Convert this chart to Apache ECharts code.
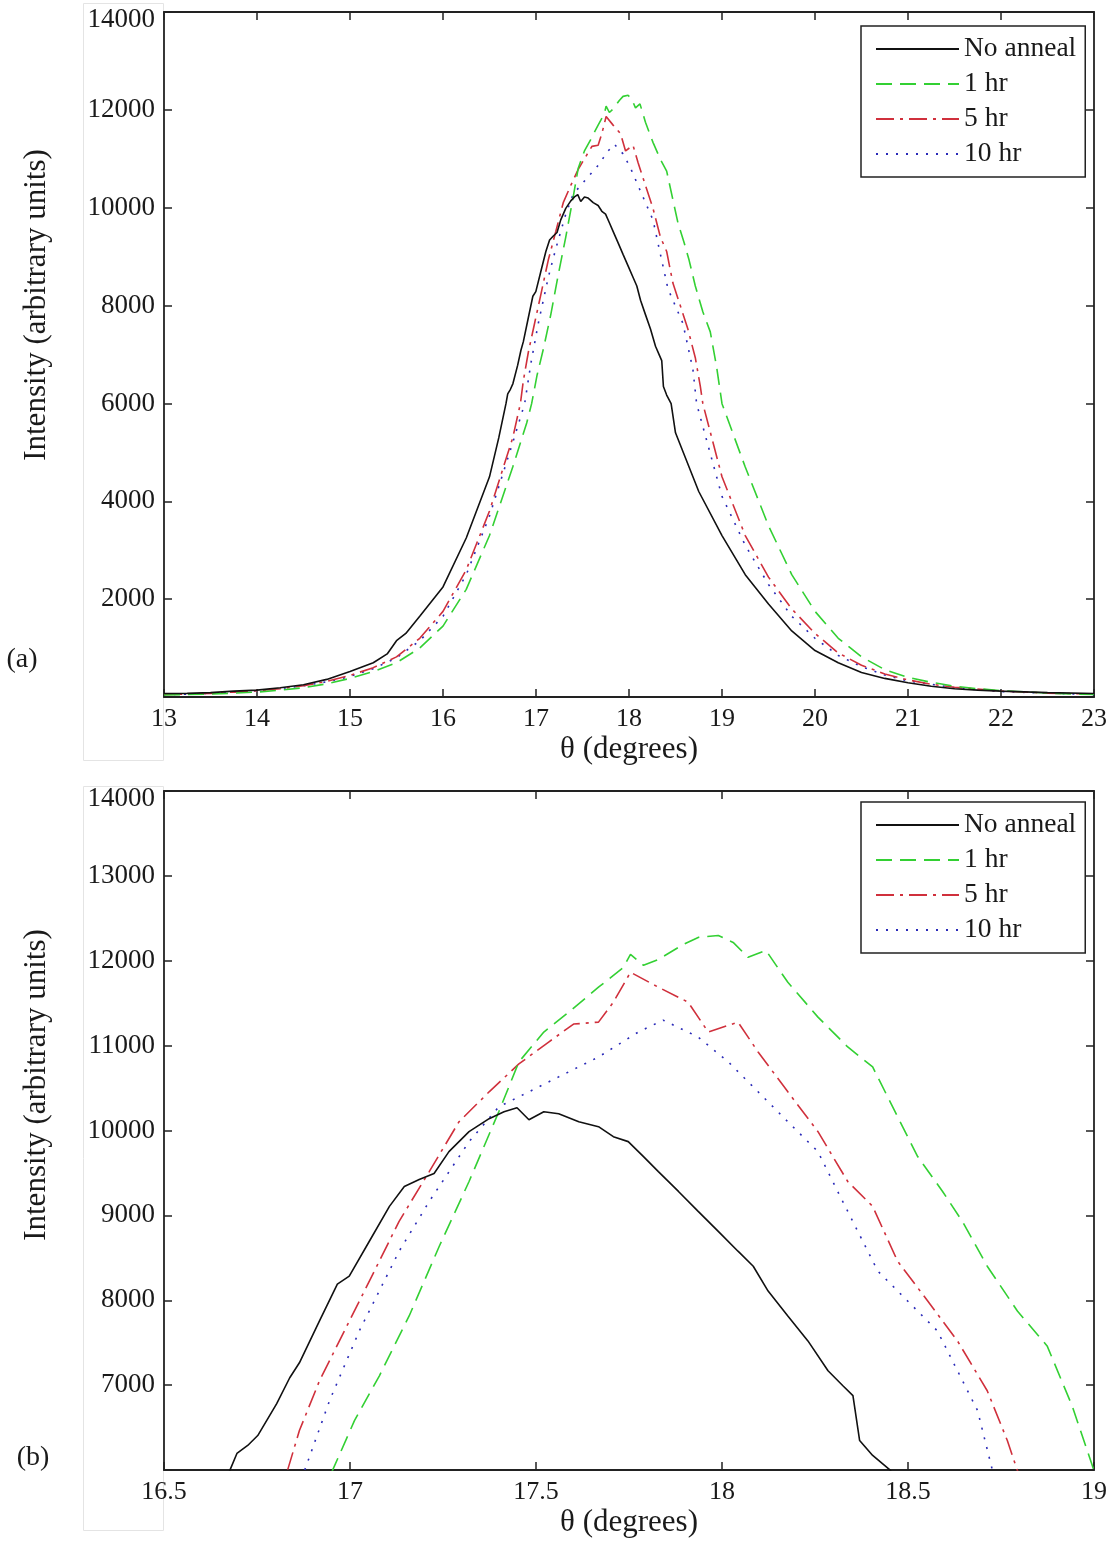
<!DOCTYPE html>
<html>
<head>
<meta charset="utf-8">
<script src="https://cdn.jsdelivr.net/npm/echarts@6/dist/echarts.min.js"></script>
<style>
html,body{margin:0;padding:0;background:#fff;}
#chart{width:1110px;height:1543px;}
</style>
</head>
<body>
<div id="chart"></div>
<script>
// ---- Series names ----
const seriesNames = ['No anneal', '1 hr', '5 hr', '10 hr'];

// ---- No anneal (black) ----
const blackX = [13.0,13.25,13.5,13.75,14.0,14.25,14.5,14.75,15.0,15.25,15.4,15.5,15.6,15.75,16.0,16.25,16.5,16.6,
  16.677,16.696,16.725,16.752,16.803,16.838,16.864,16.918,16.966,16.998,17.052,17.106,17.146,17.186,17.226,17.266,17.320,17.374,17.414,17.449,
  17.481,17.521,17.561,17.615,17.668,17.708,17.748,17.789,17.829,17.883,17.936,17.990,18.043,18.084,18.124,18.177,18.231,18.285,18.325,18.352,18.370,18.405,18.453,
  18.5,18.75,19.0,19.25,19.5,19.75,20.0,20.25,20.5,20.75,21.0,21.25,21.5,21.75,22.0,22.5,23.0];
const blackY = [70,75,90,120,140,190,250,360,520,700,880,1150,1300,1650,2250,3250,4500,5300,
  5995,6195,6289,6406,6782,7087,7263,7756,8190,8284,8695,9106,9340,9422,9493,9751,9986,10139,10221,10268,
  10127,10221,10197,10103,10045,9927,9869,9692,9516,9282,9047,8812,8578,8401,8108,7815,7521,7169,6993,6876,6347,6171,5995,
  5400,4200,3300,2500,1900,1350,950,700,500,380,290,220,170,140,120,90,70];

// ---- 1 hr (green) ----
const greenX = [13.0,13.25,13.5,13.75,14.0,14.25,14.5,14.75,15.0,15.25,15.5,15.75,16.0,16.25,16.5,16.75,16.9,
  16.953,17.012,17.079,17.159,17.240,17.320,17.400,17.454,17.521,17.588,17.668,17.735,17.754,17.789,17.829,17.896,17.936,17.990,18.030,18.070,18.118,
  18.177,18.258,18.338,18.405,18.472,18.526,18.593,18.646,18.713,18.794,18.874,18.941,19.0,
  19.25,19.5,19.75,20.0,20.25,20.5,20.75,21.0,21.25,21.5,21.75,22.0,22.5,23.0];
const greenY = [40,50,60,80,100,140,190,270,380,520,700,1000,1450,2200,3300,4700,5600,
  5995,6582,7110,7815,8636,9399,10221,10808,11160,11394,11688,11922,12075,11946,12016,12192,12275,12298,12216,12040,12122,
  11746,11336,10984,10749,10162,9693,9282,8930,8401,7873,7462,6758,5995,
  4700,3500,2500,1750,1200,820,560,400,300,220,170,130,80,50];

// ---- 5 hr (red) ----
const redX = [13.0,13.25,13.5,13.75,14.0,14.25,14.5,14.75,15.0,15.25,15.5,15.75,16.0,16.25,16.5,16.75,
  16.832,16.864,16.918,16.985,17.052,17.132,17.213,17.293,17.374,17.454,17.534,17.601,17.668,17.708,17.754,17.829,17.909,17.963,18.043,18.097,
  18.177,18.258,18.338,18.405,18.472,18.553,18.633,18.713,18.767,18.794,
  19.0,19.25,19.5,19.75,20.0,20.25,20.5,20.75,21.0,21.25,21.5,22.0,22.5,23.0];
const redY = [50,60,75,100,130,170,230,320,440,600,820,1200,1750,2600,3800,5300,
  5995,6465,7051,7639,8225,8930,9516,10103,10456,10784,11042,11254,11277,11512,11864,11688,11512,11160,11277,10925,
  10456,9986,9399,9106,8460,7991,7521,6934,6347,5995,
  4500,3300,2450,1800,1300,900,650,470,350,260,200,120,80,60];

// ---- 10 hr (blue) ----
const blueX = [13.0,13.25,13.5,13.75,14.0,14.25,14.5,14.75,15.0,15.25,15.5,15.75,16.0,16.25,16.5,16.75,
  16.878,16.945,17.025,17.132,17.213,17.320,17.400,17.481,17.561,17.668,17.775,17.842,17.936,18.017,18.097,
  18.177,18.258,18.311,18.365,18.419,18.499,18.579,18.633,18.687,18.727,
  19.0,19.25,19.5,19.75,20.0,20.25,20.5,20.75,21.0,21.5,22.0,22.5,23.0];
const blueY = [50,60,75,100,130,170,230,310,420,580,800,1150,1650,2500,3700,5200,
  5995,6817,7639,8577,9164,9868,10279,10456,10632,10866,11160,11300,11101,10808,10456,
  10103,9751,9282,8812,8343,7991,7639,7169,6700,5995,
  4100,3100,2300,1650,1200,850,620,450,330,190,110,80,50];

// ---- Axis settings (tick values) ----
const xTicksA = {min: 13, max: 23, interval: 1};
const yTicksA = {min: 0, max: 14000, interval: 2000};
const xTicksB = {min: 16.5, max: 19, interval: 0.5};
const yTicksB = {min: 6000, max: 14000, interval: 1000};

const seriesX = [blackX, greenX, redX, blueX];
const seriesY = [blackY, greenY, redY, blueY];

const FONT = 'Liberation Serif';
const TXT = '#1a1a1a';
const colors = ['#111111', '#33d033', '#d0303c', '#2a2ab8'];
const dashes = ['solid', [16, 8], [18, 6, 3, 6], [2, 8]];

function pairs(xs, ys) { return xs.map((x, i) => [x, ys[i]]); }

const axisLineStyle = {lineStyle: {color: '#222', width: 1.8}};
function xAxisDef(grid, t, pos, labels) {
  return Object.assign({
    type: 'value', gridIndex: grid, position: pos,
    axisLine: Object.assign({onZero: false}, axisLineStyle),
    axisTick: {show: true, inside: true, length: 8, lineStyle: {color: '#222', width: 1.5}},
    axisLabel: {show: labels, fontFamily: FONT, fontSize: 26, color: TXT, margin: 9,
      formatter: v => String(v)},
    splitLine: {show: false},
    name: labels ? 'θ (degrees)' : '', nameLocation: 'middle', nameGap: 37,
    nameTextStyle: {fontFamily: FONT, fontSize: 31, color: TXT}
  }, t);
}
function yAxisDef(grid, t, pos, labels) {
  return Object.assign({
    type: 'value', gridIndex: grid, position: pos,
    axisLine: Object.assign({onZero: false}, axisLineStyle),
    axisTick: {show: true, inside: true, length: 8, lineStyle: {color: '#222', width: 1.5}},
    axisLabel: {show: labels, fontFamily: FONT, fontSize: 27, color: TXT, margin: 9,
      formatter: v => (v === t.min ? '' : (v === t.max ? '{top|' + v + '}' : String(v))),
      rich: {top: {fontFamily: FONT, fontSize: 27, color: TXT, padding: [16, 0, 0, 0]}}},
    splitLine: {show: false}
  }, t);
}

const series = [];
[0, 1].forEach(g => {
  seriesNames.forEach((name, i) => {
    series.push({
      name: name, type: 'line', xAxisIndex: g * 2, yAxisIndex: g * 2,
      data: pairs(seriesX[i], seriesY[i]),
      symbol: 'none', showSymbol: false, clip: true,
      lineStyle: {color: colors[i], width: 1.6, type: dashes[i]},
      itemStyle: {color: colors[i]},
      z: 10 - i
    });
  });
});

function legendDef(top) {
  return {
    orient: 'vertical', left: 861, top: top,
    data: seriesNames,
    itemWidth: 83, itemHeight: 14, itemGap: 7, itemTextGap: 5,
    padding: [9, 9, 9, 14],
    borderColor: '#222', borderWidth: 1.5, backgroundColor: '#fff',
    itemStyle: {opacity: 0, borderWidth: 0},
    textStyle: {fontFamily: FONT, fontSize: 27.5, color: TXT},
    selectedMode: false
  };
}

const faintBox = {stroke: '#e4e4e4', fill: null, lineWidth: 1};

const option = {
  animation: false,
  backgroundColor: '#fff',
  grid: [
    {left: 164, top: 12, width: 933, height: 685},
    {left: 164, top: 791, width: 933, height: 679}
  ],
  xAxis: [
    xAxisDef(0, xTicksA, 'bottom', true),
    xAxisDef(0, xTicksA, 'top', false),
    xAxisDef(1, xTicksB, 'bottom', true),
    xAxisDef(1, xTicksB, 'top', false)
  ],
  yAxis: [
    yAxisDef(0, yTicksA, 'left', true),
    yAxisDef(0, yTicksA, 'right', false),
    yAxisDef(1, yTicksB, 'left', true),
    yAxisDef(1, yTicksB, 'right', false)
  ],
  legend: [legendDef(26), legendDef(802)],
  series: series,
  graphic: [
    {type: 'rect', z: -10, shape: {x: 83.5, y: 3.5, width: 80, height: 757}, style: faintBox},
    {type: 'rect', z: -10, shape: {x: 83.5, y: 786.5, width: 80, height: 744}, style: faintBox},
    {type: 'text', x: 37, y: 305, rotation: Math.PI / 2,
      style: {text: 'Intensity (arbitrary units)', fontFamily: FONT, fontSize: 31, fill: TXT, align: 'center', verticalAlign: 'middle'}},
    {type: 'text', x: 37, y: 1085, rotation: Math.PI / 2,
      style: {text: 'Intensity (arbitrary units)', fontFamily: FONT, fontSize: 31, fill: TXT, align: 'center', verticalAlign: 'middle'}},
    {type: 'text', x: 22, y: 660,
      style: {text: '(a)', fontFamily: FONT, fontSize: 28, fill: TXT, align: 'center', verticalAlign: 'middle'}},
    {type: 'text', x: 33, y: 1458,
      style: {text: '(b)', fontFamily: FONT, fontSize: 28, fill: TXT, align: 'center', verticalAlign: 'middle'}}
  ]
};

const chart = echarts.init(document.getElementById('chart'), null, {renderer: 'canvas'});
chart.setOption(option);
</script>
</body>
</html>
